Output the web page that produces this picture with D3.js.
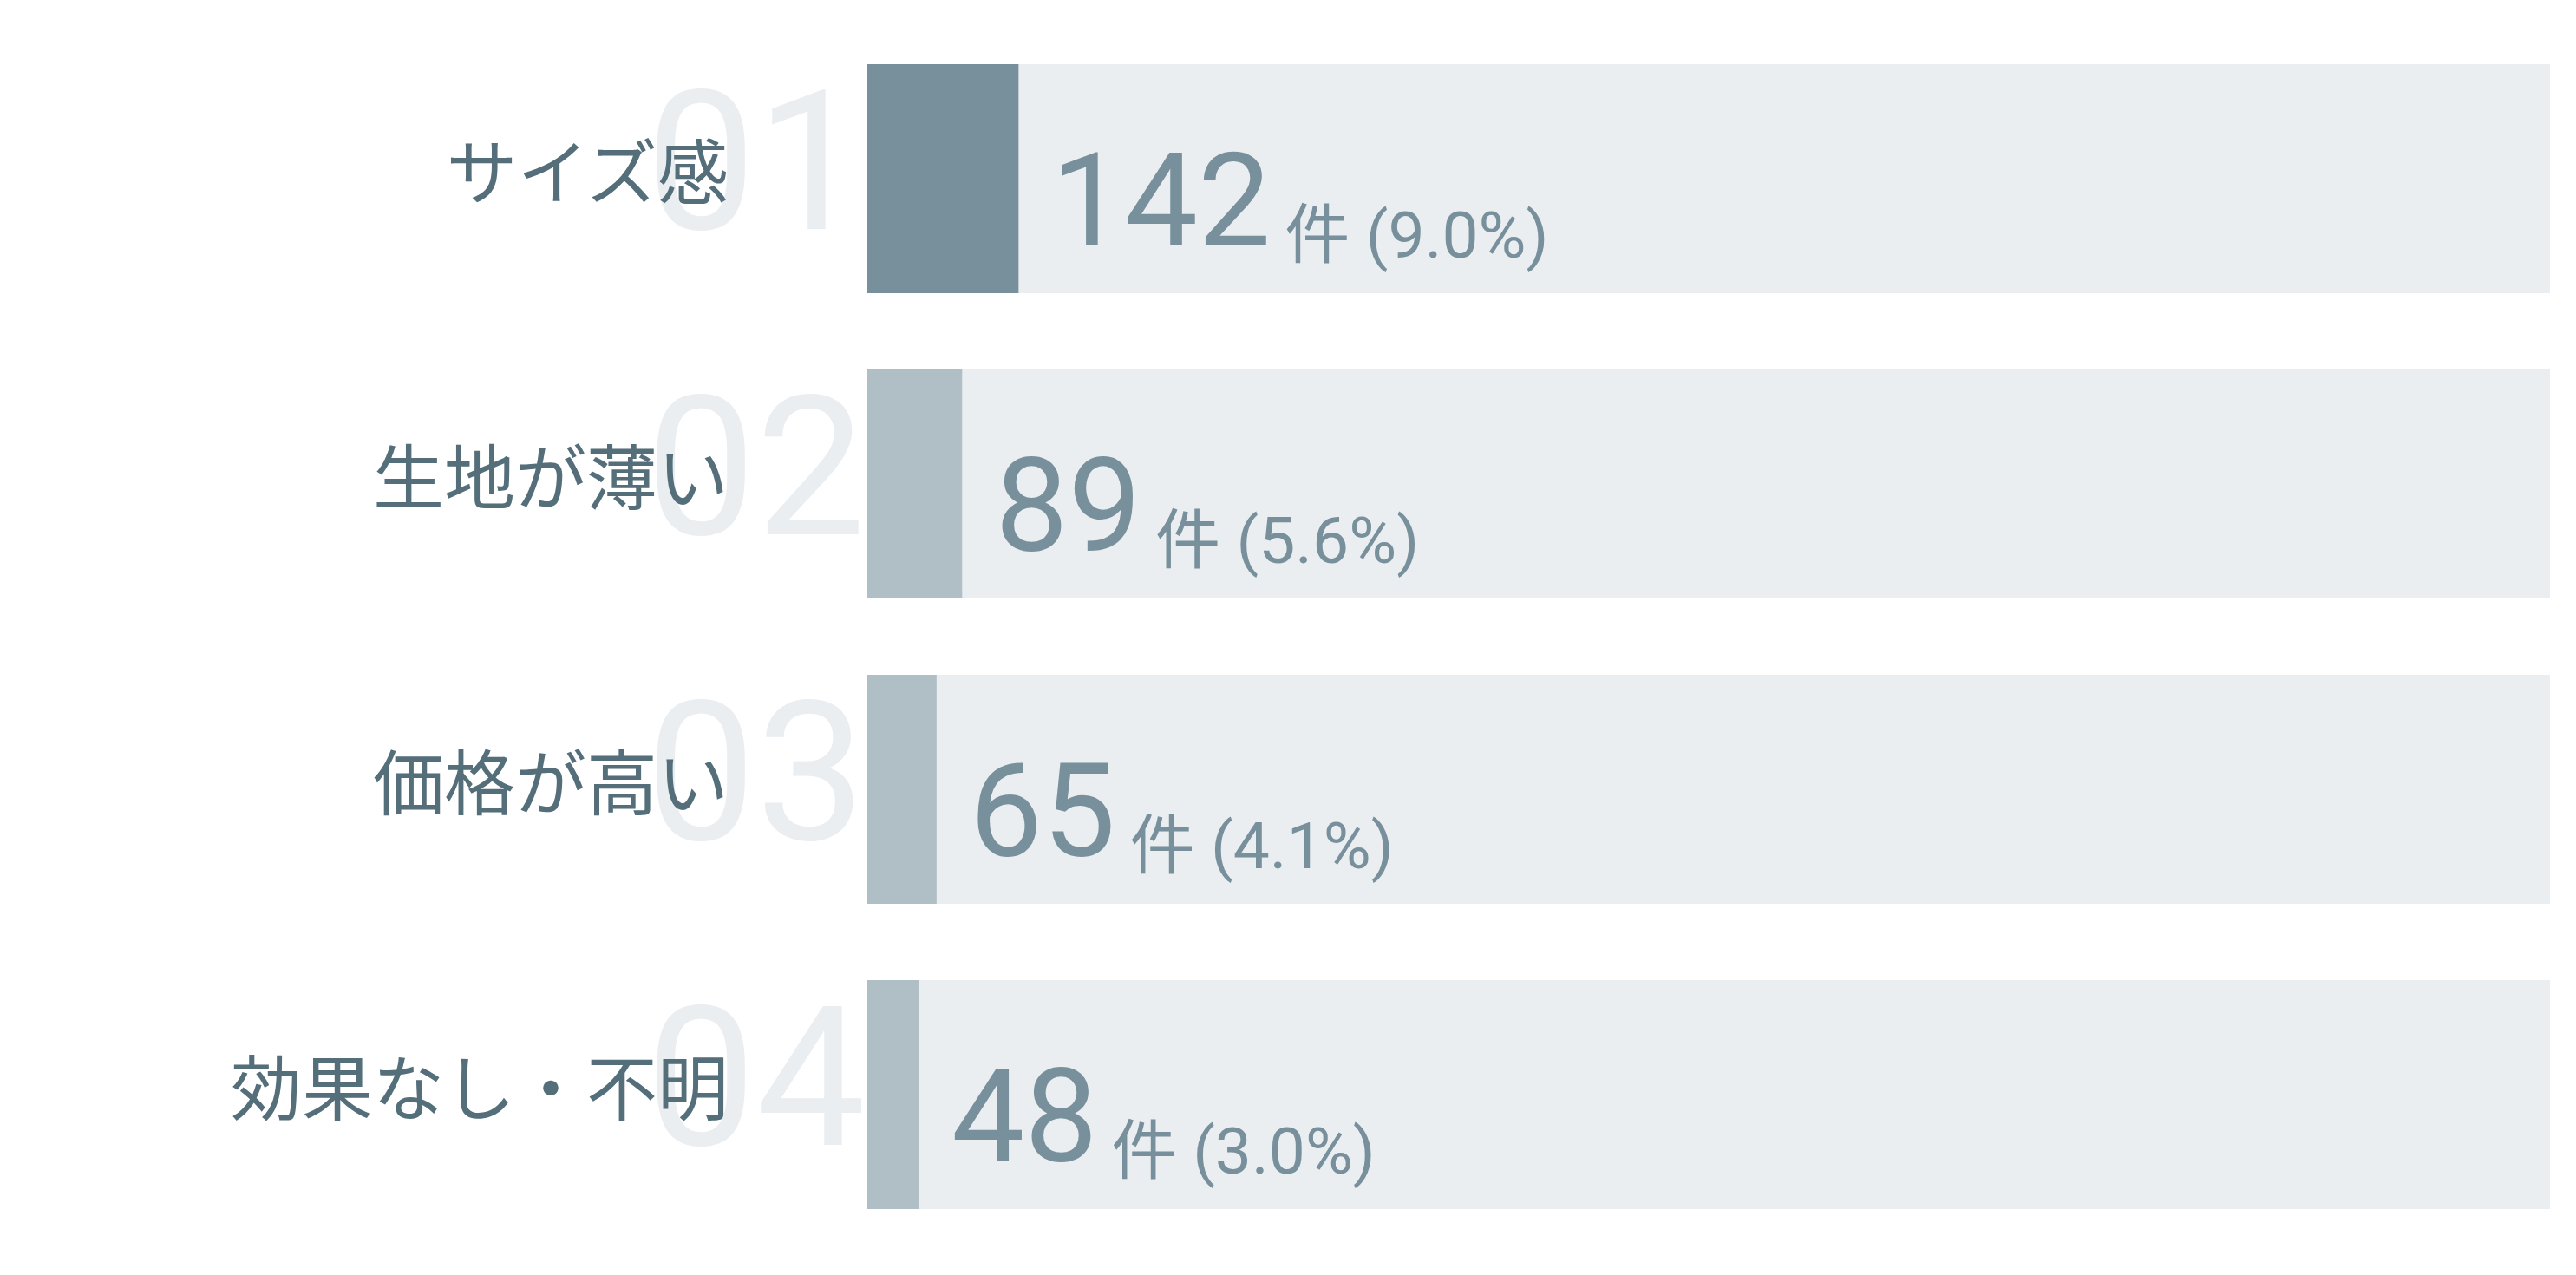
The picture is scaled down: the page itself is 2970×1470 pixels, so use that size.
<!DOCTYPE html>
<html lang="ja">
<head>
<meta charset="utf-8">
<script src="https://cdn.jsdelivr.net/npm/d3@7"></script>
<style>
  html, body { margin: 0; padding: 0; background: #fff; }
  svg { display: block; }
</style>
</head>
<body>
<div id="chart"></div>
<script>
// datos
const ranks = ["01", "02", "03", "04"];
const labels = ["サイズ感", "生地が薄い", "価格が高い", "効果なし・不明"];
const counts = [142, 89, 65, 48];
const percents = ["9.0", "5.6", "4.1", "3.0"];
const totalCount = 1580; // largo total de la pista
const unit = "件";

const rows = labels.map((d, i) => ({
  rank: ranks[i], label: d, count: counts[i], pct: percents[i], i
}));

// dimensiones
const width = 2970,
      height = 1470;

const svg = d3.select("#chart").append("svg")
    .attr("width", width)
    .attr("height", height);

// escalas
const x = d3.scaleLinear()
  .domain([0, totalCount])
  .range([1000, 2940]);

const y = d3.scaleBand()
  .domain(labels)
  .range([74, 1394])
  .paddingInner(0.25)
  .paddingOuter(0);

const jpFont = "'Noto Sans CJK JP', 'Noto Sans', sans-serif";
const numFont = "Roboto, 'Noto Sans CJK JP', sans-serif";
const cy = d => y(d.label) + y.bandwidth() / 2;

// números de fondo
svg.append("g")
  .selectAll("text")
  .data(rows)
  .enter().append("text")
    .attr("x", x(0) - 2)
    .attr("y", d => cy(d) + 58)
    .attr("text-anchor", "end")
    .style("font-family", numFont)
    .style("font-size", "225px")
    .style("font-weight", 400)
    .style("fill", "#eaeef1")
    .text(d => d.rank);

// pistas
svg.append("g")
  .selectAll("rect")
  .data(rows)
  .enter().append("rect")
    .attr("x", x(0))
    .attr("y", d => y(d.label))
    .attr("width", x(totalCount) - x(0))
    .attr("height", y.bandwidth())
    .style("fill", "#eaeef1");

// barras
svg.append("g")
  .selectAll("rect")
  .data(rows)
  .enter().append("rect")
    .attr("x", x(0))
    .attr("y", d => y(d.label))
    .attr("width", d => x(d.count) - x(0))
    .attr("height", y.bandwidth())
    .style("fill", d => d.i === 0 ? "#78909c" : "#b0bec5");

// etiquetas
svg.append("g")
  .selectAll("text")
  .data(rows)
  .enter().append("text")
    .attr("x", 840)
    .attr("y", d => cy(d) + 23)
    .attr("text-anchor", "end")
    .style("font-family", jpFont)
    .style("font-size", "82px")
    .style("fill", "#546e7a")
    .text(d => d.label);

// valores
const val = svg.append("g")
  .selectAll("text")
  .data(rows)
  .enter().append("text")
    .attr("x", d => x(d.count) + 38)
    .attr("y", d => cy(d) + 77)
    .style("font-family", numFont)
    .style("fill", "#78909c");

val.append("tspan")
    .style("font-size", "150px")
    .text(d => d.count);

val.append("tspan")
    .attr("dx", 16)
    .attr("dy", 14)
    .style("font-size", "75px")
    .text(d => `${unit} (${d.pct}%)`);
</script>
</body>
</html>
